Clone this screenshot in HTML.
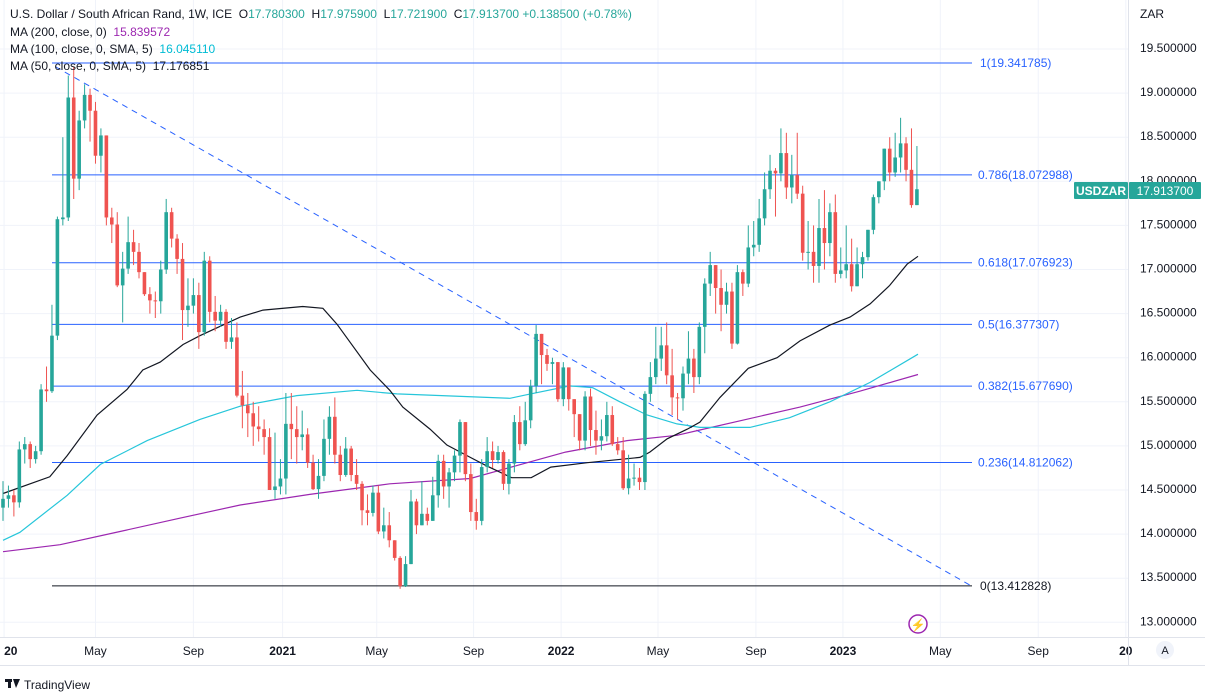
<!DOCTYPE html>
<html><head><meta charset="utf-8"><style>
body{margin:0;background:#fff;font-family:"Liberation Sans",sans-serif}
svg text{font-family:"Liberation Sans",sans-serif}
</style></head><body>
<svg id="c" width="1205" height="694" viewBox="0 0 1205 694" xmlns="http://www.w3.org/2000/svg">
<rect x="0" y="0" width="1205" height="694" fill="#fff"/>
<g id="grid"></g>
<g id="fib"></g>
<g id="mas"></g>
<g id="candles"></g>
<g id="axes"></g>
<g font-size="12">
<text x="10" y="18" fill="#131722" xml:space="preserve">U.S. Dollar / South African Rand, 1W, ICE  <tspan fill="#131722">O</tspan><tspan fill="#26a69a">17.780300</tspan>  <tspan fill="#131722">H</tspan><tspan fill="#26a69a">17.975900</tspan>  <tspan fill="#131722">L</tspan><tspan fill="#26a69a">17.721900</tspan>  <tspan fill="#131722">C</tspan><tspan fill="#26a69a">17.913700 +0.138500 (+0.78%)</tspan></text>
<text x="10" y="36" fill="#131722" xml:space="preserve">MA (200, close, 0)  <tspan fill="#9c27b0">15.839572</tspan></text>
<text x="10" y="53" fill="#131722" xml:space="preserve">MA (100, close, 0, SMA, 5)  <tspan fill="#00bcd4">16.045110</tspan></text>
<text x="10" y="70" fill="#131722" xml:space="preserve">MA (50, close, 0, SMA, 5)  <tspan fill="#131722">17.176851</tspan></text>
</g>
<text x="1140" y="18" font-size="12" fill="#131722">ZAR</text>
<g>
<rect x="1074" y="182" width="54" height="17" fill="#26a69a" rx="1"/>
<text x="1101" y="195" font-size="12" fill="#fff" text-anchor="middle" font-weight="bold">USDZAR</text>
<rect x="1129" y="182" width="72" height="17" fill="#26a69a" rx="1"/>
<text x="1165" y="195" font-size="12" fill="#fff" text-anchor="middle">17.913700</text>
</g>
<g>
<circle cx="918" cy="624" r="9" fill="#fff" stroke="#9c27b0" stroke-width="1.5"/>
<text x="918" y="629" font-size="12" fill="#9c27b0" text-anchor="middle">⚡</text>
</g>
<g>
<circle cx="1165" cy="650" r="9" fill="#f0f3fa"/>
<text x="1165" y="654" font-size="11" fill="#131722" text-anchor="middle">A</text>
</g>
<g>
<rect x="5" y="679" width="7" height="3" fill="#131722"/>
<rect x="8" y="679" width="3" height="9" fill="#131722"/>
<path d="M13 679 L20 679 L16 688 Z" fill="#131722"/>
<text x="24" y="689" font-size="12" fill="#131722">TradingView</text>
</g>
</svg>
<script>
const closes=[14.40,14.44,14.36,14.96,15.02,14.85,14.94,15.64,15.62,16.25,17.57,17.59,18.95,18.03,18.69,18.98,18.80,18.29,18.52,17.59,17.51,16.82,17.01,17.31,17.20,16.97,16.72,16.65,16.64,17.00,17.65,17.35,17.12,16.54,16.59,16.71,16.29,17.10,16.52,16.42,16.52,16.18,16.23,15.57,15.46,15.37,15.22,15.19,15.10,14.50,14.54,14.63,15.25,15.19,15.10,15.13,14.81,14.51,14.66,15.08,15.33,14.90,14.67,14.97,14.67,14.57,14.27,14.24,14.47,14.03,14.10,13.93,13.73,13.41,13.66,14.37,14.10,14.23,14.15,14.44,14.83,14.54,14.70,14.89,15.27,14.68,14.25,14.15,14.76,14.94,14.84,14.93,14.57,14.80,15.27,15.02,15.29,15.68,16.27,16.03,15.93,15.95,15.53,15.89,15.53,15.36,15.06,15.56,15.18,15.06,15.11,15.35,15.02,14.95,14.52,14.63,14.64,14.59,15.59,15.78,15.99,16.14,15.80,15.55,15.54,15.82,15.99,15.78,16.35,16.84,17.05,16.79,16.60,16.75,16.16,16.97,16.84,17.25,17.28,17.58,17.91,18.12,18.09,18.32,17.93,18.07,17.86,17.19,17.20,17.04,17.47,17.30,17.65,16.95,16.99,17.06,16.81,17.06,17.14,17.45,17.82,18.00,18.37,18.10,18.27,18.43,18.13,17.73,17.91];
const firstOpen=14.30;
const highs=[14.6,14.55,14.5,15.05,15.1,15.05,15.0,15.7,15.9,16.6,17.6,18.5,19.2,19.3,18.8,19.1,19.05,18.9,18.6,17.9,17.7,17.65,17.2,17.6,17.45,17.3,16.95,16.8,16.75,17.1,17.8,17.7,17.4,17.3,16.9,16.9,16.85,17.2,17.15,16.7,16.6,16.55,16.45,16.4,15.85,15.6,15.5,15.45,15.3,15.2,15.15,14.85,15.6,15.6,15.45,15.4,15.2,14.9,14.85,15.3,15.45,15.55,15.0,15.1,15.0,14.85,14.6,14.45,14.55,14.55,14.3,14.25,13.75,13.75,13.75,14.5,14.4,14.6,14.3,14.65,14.9,14.9,14.75,14.95,15.3,15.25,14.8,14.4,14.85,15.1,15.05,15.0,14.95,14.85,15.35,15.45,15.5,15.75,16.37,16.25,16.1,16.0,15.95,15.95,15.75,15.5,15.2,15.62,15.65,15.4,15.3,15.5,15.45,15.1,15.1,14.9,14.8,14.75,15.62,15.95,16.35,16.35,16.4,16.1,15.6,15.9,16.3,16.1,16.4,16.9,17.2,17.05,17.0,16.85,16.85,17.05,17.0,17.5,17.55,17.8,18.1,18.3,18.15,18.6,18.55,18.3,18.55,17.95,17.55,17.5,17.8,17.9,17.75,17.85,17.25,17.5,17.35,17.25,17.2,17.45,17.85,17.95,18.3,18.5,18.55,18.72,18.5,18.6,18.4,18.05];
const lows=[14.15,14.3,14.2,14.3,14.8,14.75,14.8,14.9,15.5,15.6,16.2,17.5,17.55,17.8,17.9,18.6,18.45,18.2,18.1,17.5,17.3,16.8,16.4,16.95,17.05,16.9,16.7,16.5,16.45,16.5,16.95,17.25,16.95,16.2,16.35,16.5,16.1,16.25,16.4,16.3,16.35,16.1,16.1,15.55,15.2,15.1,15.0,15.05,14.9,14.5,14.4,14.45,14.45,14.85,14.8,14.95,14.75,14.5,14.4,14.6,14.9,14.8,14.6,14.65,14.6,14.5,14.1,14.1,14.2,14.0,13.95,13.85,13.7,13.38,13.4,13.75,14.0,14.1,14.1,14.15,14.3,14.4,14.3,14.6,14.7,14.6,14.15,14.05,14.1,14.7,14.75,14.8,14.5,14.45,14.7,14.95,15.0,15.2,15.6,15.7,15.85,15.7,15.5,15.45,15.4,15.1,14.95,14.95,15.0,14.9,14.95,15.05,15.0,14.9,14.5,14.45,14.55,14.5,14.5,15.5,15.7,15.85,15.7,15.35,15.3,15.4,15.7,15.6,15.7,16.05,16.7,16.5,16.3,16.5,16.1,16.15,16.7,16.8,17.15,17.2,17.5,17.8,17.6,18.0,17.8,17.75,17.8,17.1,17.0,16.85,16.85,17.0,17.15,16.85,16.9,16.9,16.75,16.85,16.9,17.1,17.4,17.75,17.9,18.0,18.05,18.1,18.0,17.7,17.8];
const ma50Weeks=[0,8.6,11.8,17.3,22.8,25.7,28.9,33.1,36.2,43.6,47.8,55.1,58.8,61.4,67.5,71.1,73.5,78.5,81.6,85.9,88.7,93.5,97.1,100.7,107.4,117.1,118.9,122.1,125.8,128.1,131.8,137,142.3,146.5,152,155.7,159.4,163,166.2,168.2];
const ma50Vals=[14.46,14.65,14.89,15.35,15.64,15.86,15.95,16.15,16.25,16.46,16.54,16.58,16.56,16.38,15.86,15.63,15.44,15.19,15.01,14.87,14.78,14.64,14.64,14.76,14.81,14.87,14.93,15.08,15.19,15.27,15.55,15.88,16.0,16.19,16.37,16.46,16.61,16.82,17.06,17.15];
const ma100Weeks=[0,3.1,11.8,17.9,26.5,36.2,43.6,54,65.1,72.4,93.2,96.3,104.2,108.4,113.4,118.4,123.9,128.1,137.3,144.6,152,159.4,168.2];
const ma100Vals=[13.93,14.02,14.44,14.79,15.06,15.3,15.45,15.57,15.63,15.59,15.54,15.58,15.68,15.66,15.5,15.35,15.25,15.21,15.21,15.32,15.5,15.72,16.04];
const ma200Weeks=[0,10.5,21.5,32.5,43.6,56.4,71.1,85.9,103.4,114.7,123.9,128.1,146.5,157.5,168.2];
const ma200Vals=[13.80,13.88,14.03,14.18,14.33,14.45,14.57,14.63,14.93,15.06,15.12,15.18,15.44,15.62,15.81];
const fibLevels=["1","0.786","0.618","0.5","0.382","0.236","0"];
const fibPrices=[19.341785,18.072988,17.076923,16.377307,15.677690,14.812062,13.412828];
const priceTicks=[13.0,13.5,14.0,14.5,15.0,15.5,16.0,16.5,17.0,17.5,18.0,18.5,19.0,19.5];
const timeLabels=["20","May","Sep","2021","May","Sep","2022","May","Sep","2023","May","Sep","20"];
const timeBold=[true,false,false,true,false,false,true,false,false,true,false,false,true];
const timeWeeks=[0.2,17.0,35.0,51.4,68.7,86.5,102.6,120.4,138.4,154.4,172.3,190.3,206.4];
const trendStart=[9.6,19.30];
const trendEnd=[177.8,13.42];

const NS="http://www.w3.org/2000/svg";
const X=i=>3+i*5.44;
const Y=p=>49+(19.5-p)*88.2;
function mk(tag,attrs,parent){const e=document.createElementNS(NS,tag);for(const k in attrs)e.setAttribute(k,attrs[k]);parent.appendChild(e);return e;}
const grid=document.getElementById('grid'),fib=document.getElementById('fib'),mas=document.getElementById('mas'),cg=document.getElementById('candles'),ax=document.getElementById('axes');

priceTicks.forEach(p=>{
 const l=mk('line',{x1:0,x2:1128,y1:Y(p),y2:Y(p),stroke:'#f0f3fa','stroke-width':1},grid);
 
 
 const t=mk('text',{x:1140,y:Y(p)+3,'font-size':12,fill:'#131722'},ax);
 t.textContent=p.toFixed(6);
 
 
});
timeWeeks.forEach((w,i)=>{
 const l=mk('line',{x1:X(w),x2:X(w),y1:0,y2:637,stroke:'#f0f3fa','stroke-width':1},grid);
 
 
 const t=mk('text',{x:X(w),y:655,'font-size':12,fill:'#131722','text-anchor':i===0?'start':'middle','font-weight':timeBold[i]?'bold':'normal'},ax);
 t.textContent=timeLabels[i];
 
 
});
let a=mk('line',{x1:1128.5,x2:1128.5,y1:0,y2:665,stroke:'#e0e3eb'},ax);


a=mk('line',{x1:0,x2:1205,y1:637.5,y2:637.5,stroke:'#e0e3eb'},ax);


a=mk('line',{x1:0,x2:1205,y1:665.5,y2:665.5,stroke:'#e0e3eb'},ax);



fibPrices.forEach((p,i)=>{
 const col=i===6?'#131722':'#2962ff';
 const l=mk('line',{x1:52,x2:972,y1:Y(p),y2:Y(p),stroke:col,'stroke-width':1},fib);
 
 
 const t=mk('text',{x:(i===0||i===6)?980:978,y:Y(p)+4,'font-size':12,fill:col},fib);
 t.textContent=fibLevels[i]+'('+p.toFixed(6)+')';
 
 
});
const tl=mk('line',{x1:X(trendStart[0]),y1:Y(trendStart[1]),x2:X(trendEnd[0]),y2:Y(trendEnd[1]),stroke:'#2962ff','stroke-width':1,'stroke-dasharray':'6,5'},fib);



function ma(weeks,vals,col,name){
 const pts=weeks.map((w,i)=>X(w).toFixed(1)+','+Y(vals[i]).toFixed(1)).join(' ');
 const p=mk('polyline',{points:pts,fill:'none',stroke:col,'stroke-width':1.2},mas);
 
 
}
ma(ma200Weeks,ma200Vals,'#9c27b0','ma200-line');
ma(ma100Weeks,ma100Vals,'#26c6da','ma100-line');
ma(ma50Weeks,ma50Vals,'#131722','ma50-line');

closes.forEach((c,i)=>{
 const o=i===0?firstOpen:closes[i-1];
 const up=c>=o,col=up?'#26a69a':'#ef5350';
 const hi=Math.max(highs[i]!==undefined?highs[i]:c,o,c),lo=Math.min(lows[i]!==undefined?lows[i]:c,o,c);
 const x=X(i);
 const g=mk('g',{},cg);
 
 
 mk('line',{x1:x,x2:x,y1:Y(hi),y2:Y(lo),stroke:col,'stroke-width':1},g);
 const top=Y(Math.max(o,c)),h=Math.max(1,Y(Math.min(o,c))-top);
 mk('rect',{x:x-1.8,y:top,width:3.6,height:h,fill:col},g);
});
</script>
</body></html>
